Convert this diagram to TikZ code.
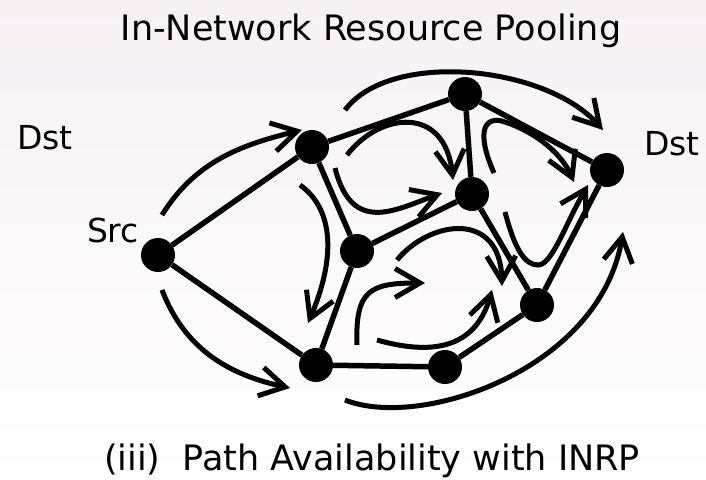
\documentclass[tikz,border=0pt]{standalone}
\usepackage{fontspec}
\setmainfont{DejaVu Sans}
\usetikzlibrary{arrows.meta}
\definecolor{bgtop}{RGB}{247,241,244}
\definecolor{ink}{HTML}{000000}

\begin{document}
\begin{tikzpicture}[x=1pt,y=-1pt,
  router/.style={circle,fill=ink,minimum size=34pt,inner sep=0pt},
  link/.style={ink,line width=5.5pt},
  flow/.style={ink,line width=5pt,-{Straight Barb[length=25pt,width=29pt]}},
  lbl/.style={font=\fontsize{33}{40}\selectfont,anchor=base,inner sep=0pt},
  head/.style={font=\fontsize{35}{42}\selectfont,anchor=base,inner sep=0pt}]
  % Background
  \shade[top color=bgtop,bottom color=white] (0,0) rectangle (706,479);
  \useasboundingbox (0,0) rectangle (706,479);

  % Routers
  \node[router] (src) at (158,255) {};
  \node[router] (r1) at (312,147) {};
  \node[router] (r2) at (465,94) {};
  \node[router] (r3) at (357,251) {};
  \node[router] (r4) at (472,194) {};
  \node[router] (dst) at (607,170) {};
  \node[router] (r5) at (537,305) {};
  \node[router] (r6) at (316,365) {};
  \node[router] (r7) at (445,367) {};

  % Links
  \draw[link] (src) -- (r1);
  \draw[link] (src) -- (r6);
  \draw[link] (r1) -- (r2);
  \draw[link] (r1) -- (r3);
  \draw[link] (r2) -- (r4);
  \draw[link] (r2) -- (dst);
  \draw[link] (r3) -- (r4);
  \draw[link] (r3) -- (r6);
  \draw[link] (r4) -- (r5);
  \draw[link] (r5) -- (dst);
  \draw[link] (r6) -- (r7);
  \draw[link] (r7) -- (r5);

  % Labels
  \node[lbl] (dstl) at (45,149) {Dst};
  \node[lbl] (dstr) at (672,155) {Dst};
  \node[lbl] (srcl) at (113,242) {Src};
  \node[head] (title) at (371,40) {In-Network Resource Pooling};
  \node[head] (caption) at (372,470) {(iii)~~Path Availability with INRP};

  % Pooled paths
  \draw[flow] (162,215) .. controls (195,162) and (240,145) .. (302,130);
  \draw[flow] (345,110) .. controls (390,50) and (545,65) .. (603,130);
  \draw[flow] (347,155) .. controls (380,112) and (445,105) .. (453,180);
  \draw[flow] (335,168) .. controls (352,235) and (395,210) .. (442,193);
  \draw[flow] (494,173) .. controls (475,130) and (485,115) .. (505,122)
    .. controls (530,130) and (560,150) .. (574,182);
  \draw[flow] (505,212) .. controls (515,250) and (525,265) .. (538,265)
    .. controls (552,265) and (565,225) .. (588,185);
  \draw[flow] (300,185) .. controls (335,210) and (335,260) .. (308,323);
  \draw[flow] (397,260) .. controls (430,220) and (500,210) .. (502,286);
  \draw[flow] (357,345) .. controls (355,290) and (370,283) .. (425,283);
  \draw[flow] (377,340) .. controls (430,355) and (475,350) .. (492,290);
  \draw[flow] (162,290) .. controls (185,350) and (230,375) .. (290,388);
  \draw[flow] (345,400) .. controls (420,430) and (600,370) .. (623,232);
\end{tikzpicture}
\end{document}
